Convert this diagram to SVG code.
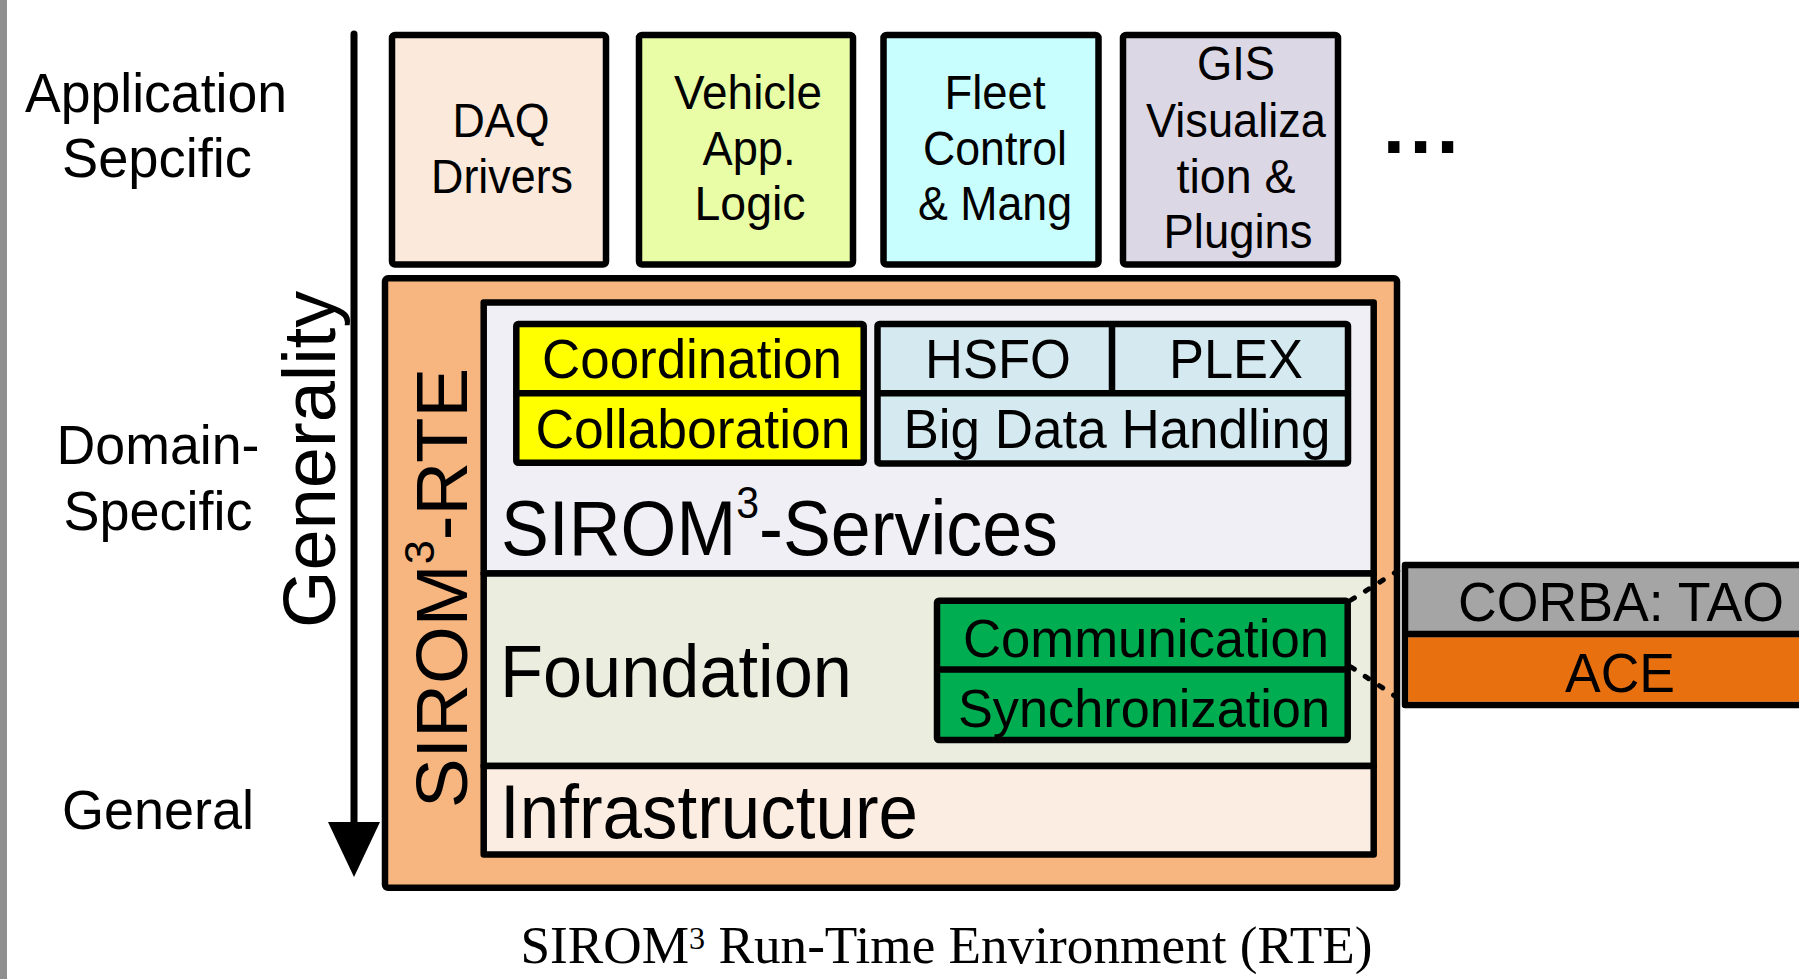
<svg xmlns="http://www.w3.org/2000/svg" width="1799" height="979" viewBox="0 0 1799 979">
  <defs>
    <style>
      .lbl { font-family: "Liberation Sans", Arial, sans-serif; font-size: 56px; fill: #000; text-anchor: middle; }
      .app { font-family: "Liberation Sans", Arial, sans-serif; font-size: 49px; fill: #000; text-anchor: middle; }
      .svc { font-family: "Liberation Sans", Arial, sans-serif; font-size: 56px; fill: #000; text-anchor: middle; }
      .com { font-family: "Liberation Sans", Arial, sans-serif; font-size: 53px; fill: #000; text-anchor: middle; }
      .ext { font-family: "Liberation Sans", Arial, sans-serif; font-size: 55px; fill: #000; text-anchor: middle; }
      .big { font-family: "Liberation Sans", Arial, sans-serif; fill: #000; }
      .box { stroke: #000; stroke-width: 6.5; stroke-linejoin: round; }
      .div { stroke: #000; stroke-width: 6.5; fill: none; }
      .dot { stroke: #000; stroke-width: 5; stroke-linecap: round; stroke-dasharray: 4 13; fill: none; }
      .axis { stroke: #000; stroke-width: 7; fill: none; }
    </style>
    <marker id="head" viewBox="0 0 55 52" refX="0" refY="26" markerWidth="55" markerHeight="52" markerUnits="userSpaceOnUse" orient="auto">
      <path d="M0,0 L55,26 L0,52 Z" fill="#000"/>
    </marker>
  </defs>

  <rect x="0" y="0" width="1799" height="979" fill="#fff"/>
  <!-- page edge strip -->
  <rect x="0" y="0" width="7" height="979" fill="#8f8f8f"/>

  <!-- level labels -->
  <g id="level-labels">
    <text class="lbl" x="156" y="112" textLength="262" lengthAdjust="spacingAndGlyphs">Application</text>
    <text class="lbl" x="157" y="177" textLength="190" lengthAdjust="spacingAndGlyphs">Sepcific</text>
    <text class="lbl" x="158" y="464" textLength="203" lengthAdjust="spacingAndGlyphs">Domain-</text>
    <text class="lbl" x="158" y="530" textLength="189" lengthAdjust="spacingAndGlyphs">Specific</text>
    <text class="lbl" x="158" y="829" textLength="192" lengthAdjust="spacingAndGlyphs">General</text>
    <text class="big" font-size="74" transform="translate(335,628) rotate(-90)">Generality</text>
  </g>

  <!-- application-specific modules -->
  <g id="daq">
    <rect class="box" x="392" y="35" width="214" height="229.5" rx="3" fill="#fbe9dc"/>
    <text class="app" x="501" y="137" textLength="97" lengthAdjust="spacingAndGlyphs">DAQ</text>
    <text class="app" x="502" y="193" textLength="142" lengthAdjust="spacingAndGlyphs">Drivers</text>
  </g>
  <g id="vehicle">
    <rect class="box" x="639" y="35" width="214" height="229.5" rx="3" fill="#e8fda5"/>
    <text class="app" x="748" y="109" textLength="148" lengthAdjust="spacingAndGlyphs">Vehicle</text>
    <text class="app" x="749" y="165" textLength="93" lengthAdjust="spacingAndGlyphs">App.</text>
    <text class="app" x="750" y="220" textLength="111" lengthAdjust="spacingAndGlyphs">Logic</text>
  </g>
  <g id="fleet">
    <rect class="box" x="883.5" y="35" width="215" height="229.5" rx="3" fill="#c8fefe"/>
    <text class="app" x="995" y="109" textLength="101" lengthAdjust="spacingAndGlyphs">Fleet</text>
    <text class="app" x="995" y="165" textLength="144" lengthAdjust="spacingAndGlyphs">Control</text>
    <text class="app" x="995" y="220" textLength="154" lengthAdjust="spacingAndGlyphs">&amp; Mang</text>
  </g>
  <g id="gis">
    <rect class="box" x="1123" y="35" width="215" height="229.5" rx="3" fill="#dcd7e5"/>
    <text class="app" x="1236" y="80" textLength="78" lengthAdjust="spacingAndGlyphs">GIS</text>
    <text class="app" x="1236" y="137" textLength="180" lengthAdjust="spacingAndGlyphs">Visualiza</text>
    <text class="app" x="1236" y="193" textLength="119" lengthAdjust="spacingAndGlyphs">tion &amp;</text>
    <text class="app" x="1238" y="248" textLength="149" lengthAdjust="spacingAndGlyphs">Plugins</text>
  </g>
  <g id="more">
    <text class="big" x="1382.7" y="153.3" font-size="80" font-weight="bold" letter-spacing="4.7">...</text>
  </g>

  <!-- run-time environment frame -->
  <g id="rte">
    <rect class="box" x="385" y="278.3" width="1012" height="609.5" rx="3" fill="#f7b67f"/>
    <text class="big" font-size="72" transform="translate(467,808) rotate(-90)" textLength="440" lengthAdjust="spacingAndGlyphs">SIROM<tspan font-size="42" dy="-33">3</tspan><tspan dy="33">-RTE</tspan></text>
  </g>

  <g id="services">
    <rect class="box" x="483.7" y="302.5" width="890" height="271" fill="#f0eff5"/>
    <text class="big" x="501" y="555" font-size="77" textLength="557" lengthAdjust="spacingAndGlyphs">SIROM<tspan font-size="44" dy="-37">3</tspan><tspan dy="37">-Services</tspan></text>
  </g>
  <g id="coord-collab">
    <rect class="box" x="516.3" y="324" width="347.4" height="138.7" rx="2" fill="#ffff00"/>
    <line class="div" x1="516.3" y1="393.3" x2="863.7" y2="393.3"/>
    <text class="svc" x="692" y="378" textLength="300" lengthAdjust="spacingAndGlyphs">Coordination</text>
    <text class="svc" x="693" y="448" textLength="315" lengthAdjust="spacingAndGlyphs">Collaboration</text>
  </g>
  <g id="data-services">
    <rect class="box" x="877.5" y="324" width="470.5" height="139.4" rx="2" fill="#d4eaf0"/>
    <line class="div" x1="877.5" y1="393.3" x2="1348" y2="393.3"/>
    <line class="div" x1="1112" y1="324" x2="1112" y2="393.3"/>
    <text class="svc" x="998" y="378" textLength="146" lengthAdjust="spacingAndGlyphs">HSFO</text>
    <text class="svc" x="1236" y="378" textLength="134" lengthAdjust="spacingAndGlyphs">PLEX</text>
    <text class="svc" x="1117" y="448" textLength="427" lengthAdjust="spacingAndGlyphs">Big Data Handling</text>
  </g>

  <g id="foundation">
    <rect class="box" x="483.7" y="573.5" width="890" height="192.5" fill="#ebeedf"/>
    <text class="big" x="500" y="697" font-size="74" textLength="352" lengthAdjust="spacingAndGlyphs">Foundation</text>
  </g>
  <g id="comm-sync">
    <rect class="box" x="937" y="600.8" width="410.7" height="139.2" rx="2" fill="#00ad50"/>
    <line class="div" x1="937" y1="669.5" x2="1347.7" y2="669.5"/>
    <text class="com" x="1146" y="657" textLength="366" lengthAdjust="spacingAndGlyphs">Communication</text>
    <text class="com" x="1144" y="727" textLength="372" lengthAdjust="spacingAndGlyphs">Synchronization</text>
  </g>

  <g id="infrastructure">
    <rect class="box" x="483.7" y="766" width="890" height="88.5" fill="#fcede2"/>
    <text class="big" x="500" y="838" font-size="76" textLength="418" lengthAdjust="spacingAndGlyphs">Infrastructure</text>
  </g>

  <!-- external middleware -->
  <g id="corba-ace">
    <rect class="box" x="1405" y="565" width="420" height="140" fill="#a5a5a5"/>
    <rect x="1408.3" y="637.3" width="400" height="64.4" fill="#e8700f"/>
    <line class="div" x1="1405" y1="634" x2="1825" y2="634"/>
    <text class="ext" x="1621" y="621" textLength="326" lengthAdjust="spacingAndGlyphs">CORBA: TAO</text>
    <text class="ext" x="1620" y="692" textLength="110" lengthAdjust="spacingAndGlyphs">ACE</text>
  </g>

  <!-- connectors -->
  <g id="connectors">
    <line class="axis" x1="354" y1="34" x2="354" y2="822" stroke-linecap="round" marker-end="url(#head)"/>
    <line class="dot" x1="1351" y1="600" x2="1404" y2="567"/>
    <line class="dot" x1="1351" y1="667" x2="1404" y2="702"/>
  </g>

  <g id="caption">
    <text x="520.5" y="963" font-family="'Liberation Serif', 'Times New Roman', serif" font-size="53" fill="#000" textLength="852" lengthAdjust="spacingAndGlyphs">SIROM<tspan font-size="32" dy="-14">3</tspan><tspan dy="14"> Run-Time Environment (RTE)</tspan></text>
  </g>
</svg>
